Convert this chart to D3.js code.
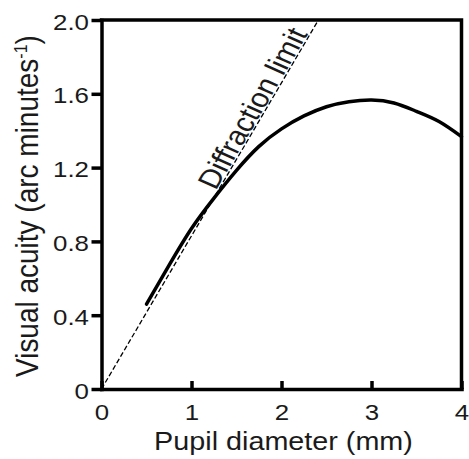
<!DOCTYPE html>
<html>
<head>
<meta charset="utf-8">
<script src="https://cdn.jsdelivr.net/npm/d3@7"></script>
<style>
  html, body { margin: 0; padding: 0; background: #fff; }
  svg { display: block; }
  text { font-family: "Liberation Sans", Arial, Helvetica, sans-serif; fill: #1a1a1a; }
</style>
</head>
<body>
<svg id="chart" width="469" height="459"></svg>
<script>
// ---- data ----
const xTickValues = [0, 1, 2, 3, 4];
const xTickLabels = ["0", "1", "2", "3", "4"];
const yTickValues = [0, 0.4, 0.8, 1.2, 1.6, 2.0];
const yTickLabels = ["0", "0.4", "0.8", "1.2", "1.6", "2.0"];

const pupilDiameter = [0.5, 0.75, 1.0, 1.25, 1.5, 1.75, 2.0, 2.25, 2.5, 2.75, 3.0, 3.25, 3.5, 3.75, 4.0];
const visualAcuity  = [0.46, 0.67, 0.87, 1.035, 1.185, 1.315, 1.41, 1.48, 1.53, 1.557, 1.566, 1.55, 1.505, 1.45, 1.368];

const diffractionX = [0, 2.41];
const diffractionY = [0, 2.0];
const diffractionLabel = "Diffraction limit";
const diffractionLabelAt = 1.068;

const xTitle = "Pupil diameter (mm)";
const yTitleMain = "Visual acuity (arc minutes";
const yTitleSup = "-1";
const yTitleEnd = ")";

// ---- layout ----
const SX = 1.15;
const svg = d3.select("#chart");
const x = d3.scaleLinear().domain([0, 4]).range([101.5, 461.5]);
const y = d3.scaleLinear().domain([0, 2]).range([389, 20]);

const gx = svg.append("g").attr("transform", `translate(0,${y(0)})`)
  .call(d3.axisBottom(x).tickValues(xTickValues).tickFormat((d, i) => xTickLabels[i])
    .tickSizeInner(-8).tickSizeOuter(0).tickPadding(0));
const gy = svg.append("g").attr("transform", `translate(${x(0)},0)`)
  .call(d3.axisLeft(y).tickValues(yTickValues).tickFormat((d, i) => yTickLabels[i])
    .tickSizeInner(10).tickSizeOuter(0).tickPadding(2.5));

[gx, gy].forEach(g => {
  g.select(".domain").attr("stroke", "#000").attr("stroke-width", 3.5).attr("stroke-linecap", "square");
  g.selectAll(".tick line").attr("stroke", "#000").attr("stroke-width", 3.5);
});

gx.selectAll(".tick text")
  .attr("x", null).attr("dy", null).attr("y", null)
  .attr("transform", "translate(0,31) scale(" + SX + ",1)")
  .style("font-size", "22.5px").attr("fill", "#1a1a1a");
gy.selectAll(".tick text")
  .attr("x", null).attr("dy", null).attr("y", null)
  .attr("transform", "translate(-12.5,9) scale(" + SX + ",1)")
  .style("font-size", "22.5px").attr("fill", "#1a1a1a");

svg.append("path")
  .attr("d", `M${x(0)},${y(2)}H${x(4)}V${y(0)}`)
  .attr("fill", "none").attr("stroke", "#000").attr("stroke-width", 3.5)
  .attr("stroke-linecap", "square").attr("stroke-linejoin", "miter");

const diffLine = d3.line().x(d => x(d[0])).y(d => y(d[1]));
svg.append("path")
  .datum(diffractionX.map((d, i) => [d, diffractionY[i]]))
  .attr("d", diffLine)
  .attr("fill", "none").attr("stroke", "#000").attr("stroke-width", 1.3)
  .attr("stroke-dasharray", "5,2.5");

const curve = d3.line().x(d => x(d[0])).y(d => y(d[1])).curve(d3.curveNatural);
svg.append("path")
  .datum(pupilDiameter.map((d, i) => [d, visualAcuity[i]]))
  .attr("d", curve)
  .attr("fill", "none").attr("stroke", "#000").attr("stroke-width", 3.5)
  .attr("stroke-linecap", "round");

const dxPix = x(diffractionX[1]) - x(diffractionX[0]);
const dyPix = y(diffractionY[1]) - y(diffractionY[0]);
const preAngle = Math.atan2(dyPix, dxPix / SX) * 180 / Math.PI;
const slope = diffractionY[1] / diffractionX[1];
const lx = x(diffractionLabelAt / slope) - 1.5;
const ly = y(diffractionLabelAt) - 1;
svg.append("text")
  .attr("transform", `translate(${lx},${ly}) scale(${SX},1) rotate(${preAngle})`)
  .style("font-size", "27px")
  .text(diffractionLabel);

svg.append("text")
  .attr("transform", `translate(${(x(0) + x(4)) / 2 + 2},450) scale(${SX},1)`)
  .attr("text-anchor", "middle")
  .style("font-size", "25px")
  .text(xTitle);

const yt = svg.append("text")
  .attr("transform", `translate(38,377) scale(${SX},1) rotate(-90)`)
  .attr("text-anchor", "start")
  .style("font-size", "28px");
yt.append("tspan").text(yTitleMain);
yt.append("tspan").attr("dy", -10).style("font-size", "16px").text(yTitleSup);
yt.append("tspan").attr("dy", 10).text(yTitleEnd);
</script>
</body>
</html>
